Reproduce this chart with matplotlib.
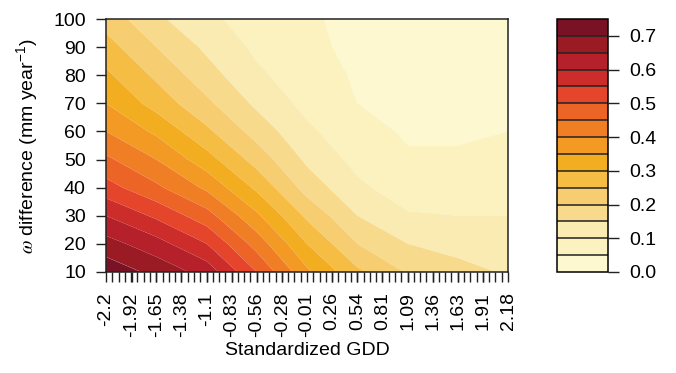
import numpy as np
import matplotlib
matplotlib.use('Agg')
import matplotlib.pyplot as plt

# values (rows = omega difference, cols = standardized GDD)
gdd = [-2.2, -1.65, -1.1, -0.56, -0.01, 0.54, 1.09, 1.63, 2.18]
omega = [10, 20, 30, 40, 50, 60, 70, 80, 90, 100]
z = [
    [0.735, 0.685, 0.63, 0.50, 0.36, 0.26, 0.195, 0.165, 0.145],
    [0.67, 0.62, 0.55, 0.43, 0.30, 0.20, 0.15, 0.135, 0.13],
    [0.60, 0.54, 0.47, 0.36, 0.24, 0.15, 0.105, 0.10, 0.10],
    [0.52, 0.46, 0.39, 0.29, 0.18, 0.11, 0.075, 0.075, 0.08],
    [0.46, 0.40, 0.32, 0.23, 0.14, 0.085, 0.055, 0.055, 0.065],
    [0.40, 0.34, 0.26, 0.18, 0.11, 0.065, 0.045, 0.045, 0.05],
    [0.35, 0.28, 0.21, 0.14, 0.085, 0.05, 0.04, 0.04, 0.045],
    [0.31, 0.24, 0.17, 0.11, 0.07, 0.045, 0.035, 0.035, 0.04],
    [0.27, 0.20, 0.14, 0.09, 0.06, 0.04, 0.03, 0.03, 0.035],
    [0.23, 0.16, 0.11, 0.08, 0.055, 0.04, 0.03, 0.03, 0.03],
]
x_tick_labels = ['-2.2', '-1.92', '-1.65', '-1.38', '-1.1', '-0.83', '-0.56', '-0.28',
                 '-0.01', '0.26', '0.54', '0.81', '1.09', '1.36', '1.63', '1.91', '2.18']
y_ticks = [10, 20, 30, 40, 50, 60, 70, 80, 90, 100]
cbar_ticks = [0.0, 0.1, 0.2, 0.3, 0.4, 0.5, 0.6, 0.7]

levels = np.arange(0, 0.751, 0.05)
colors = ['#fdf8d0', '#fbf2c0', '#faebb2', '#f8da8c', '#f7cd72', '#f6bd45', '#f2ad21',
          '#f39a25', '#f07e24', '#ec6426', '#e5452b', '#cc2d2b', '#b5202a', '#9a1b24', '#7a1226']

plt.rcParams['font.family'] = ['Liberation Sans', 'DejaVu Sans']
plt.rcParams['mathtext.fontset'] = 'stix'
plt.rcParams['font.size'] = 14

fig = plt.figure(figsize=(6.76, 3.73), dpi=100)
ax = fig.add_axes([106 / 676, 1 - 272 / 373, 402 / 676, 253 / 373])
cax = fig.add_axes([557 / 676, 1 - 272 / 373, 51 / 676, 253 / 373])

cf = ax.contourf(gdd, omega, z, levels=levels, colors=colors, antialiased=True)
ax.set_xlim(-2.2, 2.18)
ax.set_ylim(10, 100)

# ticks: every grid column gets a mark, every 4th gets a label
ax.set_xticks([float(s) for s in x_tick_labels])
ax.set_xticklabels(x_tick_labels, rotation=90)
ax.set_xticks(np.linspace(-2.2, 2.18, 65), minor=True)
ax.set_yticks(y_ticks)
ax.tick_params(axis='both', which='both', direction='out', length=7.5, width=1,
               color='#222222', pad=7)
for sp in ax.spines.values():
    sp.set_linewidth(1.1)
    sp.set_color('#222222')

ax.set_xlabel('Standardized GDD', labelpad=4)
ax.set_ylabel(r'$\omega$ difference (mm year$^{\mathregular{-1}}$)', labelpad=9)

cb = fig.colorbar(cf, cax=cax, ticks=cbar_ticks, drawedges=True)
cb.ax.set_yticklabels(['%.1f' % t for t in cbar_ticks])
cb.outline.set_linewidth(1.1)
cb.dividers.set_linewidth(1.1)
cb.dividers.set_color('#222222')
cb.ax.tick_params(direction='out', length=8, width=1, color='#222222', pad=7)

fig.savefig('out.png', dpi=100)
